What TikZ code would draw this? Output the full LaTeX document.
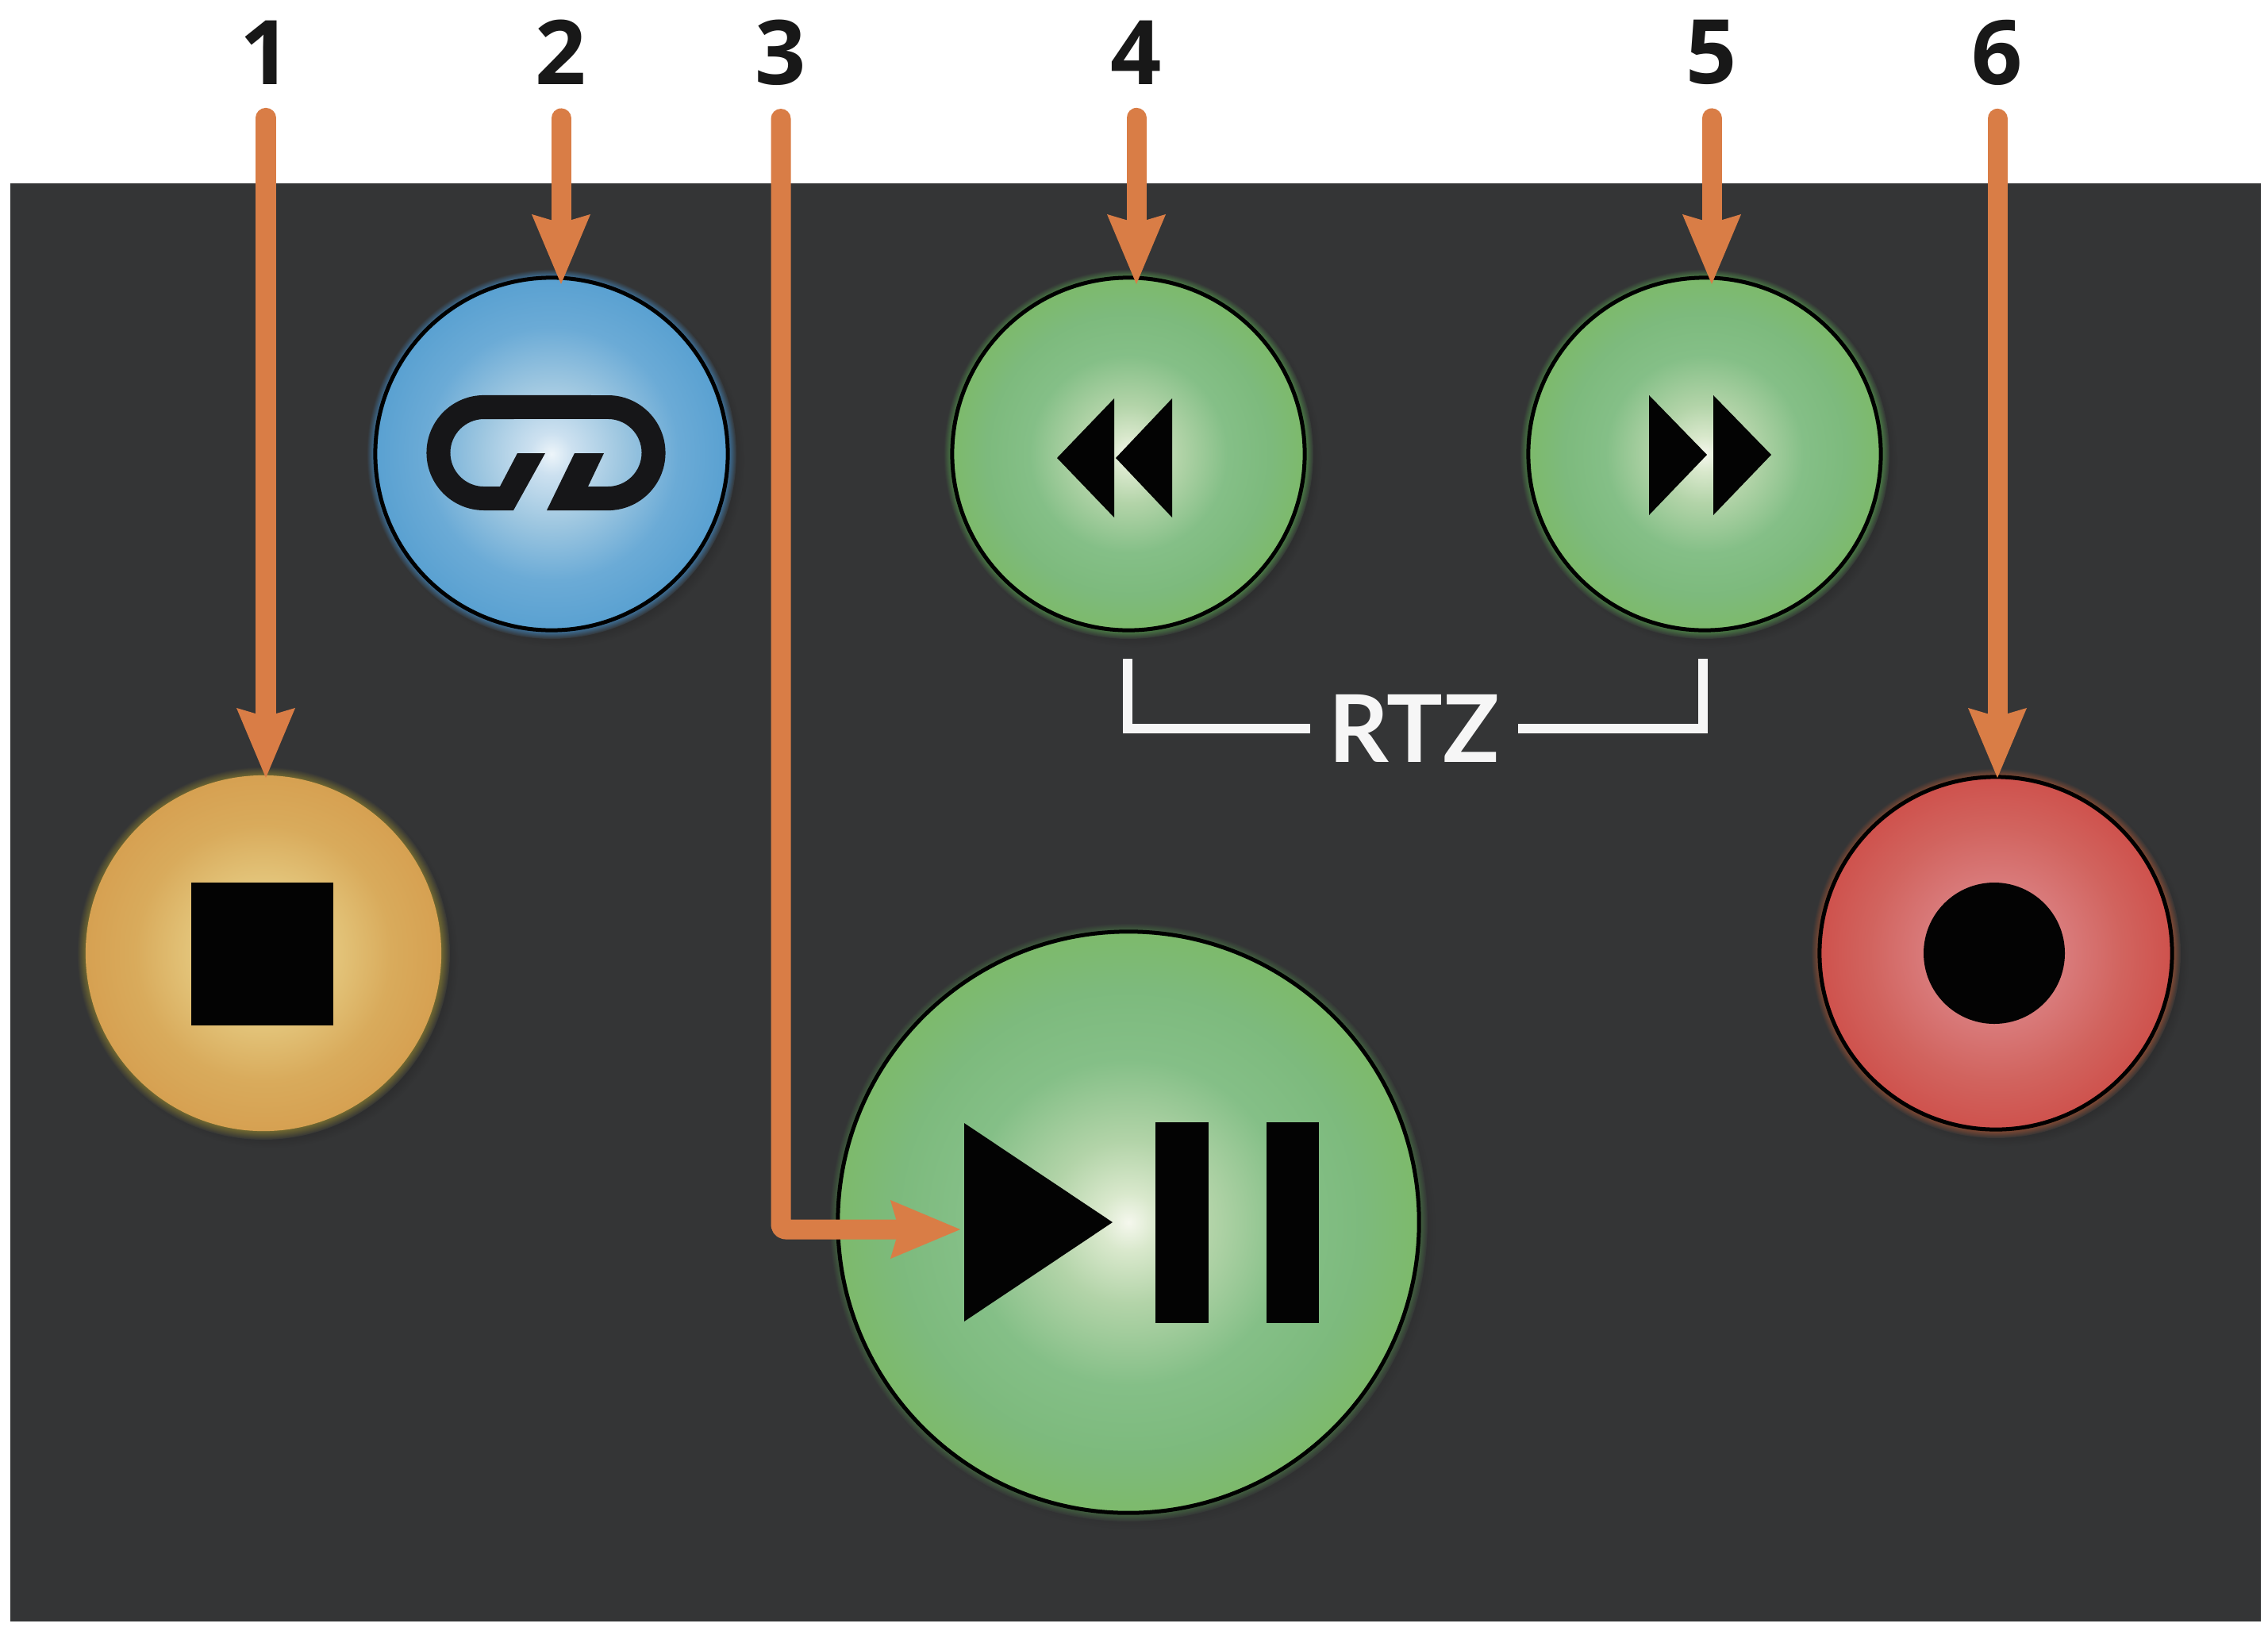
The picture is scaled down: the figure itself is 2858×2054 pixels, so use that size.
\documentclass[tikz,border=0pt]{standalone}
\usepackage{fontspec}
\setmainfont{Open Sans}
\newfontfamily\rtzfont{Lato}
\usetikzlibrary{arrows.meta}
\definecolor{panelgrey}{RGB}{52,53,54}
\definecolor{pointerorange}{RGB}{217,125,70}
\definecolor{digitblack}{RGB}{24,24,24}
\definecolor{labelwhite}{RGB}{246,246,246}
\definecolor{iconblack}{RGB}{3,3,3}
\definecolor{linkblack}{RGB}{22,22,24}
\definecolor{glowA}{RGB}{62,122,170}
\definecolor{glowB}{RGB}{76,134,70}
\definecolor{glowC}{RGB}{112,104,48}
\definecolor{glowD}{RGB}{142,76,50}
\definecolor{shadowgrey}{RGB}{38,38,39}
% button faces
\pgfdeclareradialshading{faceblue}{\pgfpoint{0bp}{0bp}}{
	rgb(0bp)=(.93,.96,.98); rgb(3bp)=(.80,.88,.94); rgb(10bp)=(.62,.78,.88);
	rgb(18bp)=(.42,.67,.84); rgb(25bp)=(.35,.63,.82); rgb(50bp)=(.35,.63,.82)}
\pgfdeclareradialshading{facegreen}{\pgfpoint{0bp}{0bp}}{
	rgb(0bp)=(.96,.97,.93); rgb(2.5bp)=(.85,.91,.80); rgb(7bp)=(.70,.83,.66);
	rgb(14bp)=(.52,.75,.53); rgb(20bp)=(.49,.73,.49); rgb(25bp)=(.49,.73,.42); rgb(50bp)=(.49,.73,.42)}
\pgfdeclareradialshading{faceamber}{\pgfpoint{0bp}{0bp}}{
	rgb(0bp)=(.92,.82,.54); rgb(10bp)=(.89,.77,.48); rgb(18bp)=(.85,.67,.36);
	rgb(25bp)=(.84,.63,.32); rgb(50bp)=(.84,.63,.32)}
\pgfdeclareradialshading{facered}{\pgfpoint{0bp}{0bp}}{
	rgb(0bp)=(.86,.52,.52); rgb(10bp)=(.85,.48,.48); rgb(18bp)=(.82,.39,.37);
	rgb(25bp)=(.81,.32,.30); rgb(50bp)=(.81,.32,.30)}
% halos fade out into the panel
\newcommand{\declarehalo}[2]{\pgfdeclareradialshading{#1}{\pgfpoint{0bp}{0bp}}{
	color(0bp)=(#2); color(23.8bp)=(#2); color(25bp)=(panelgrey); color(50bp)=(panelgrey)}}
\declarehalo{haloblue}{glowA}
\declarehalo{halogreen}{glowB}
\declarehalo{haloamber}{glowC}
\declarehalo{halored}{glowD}
\pgfdeclareradialshading{dropshade}{\pgfpoint{0bp}{0bp}}{
	color(0bp)=(shadowgrey); color(22bp)=(shadowgrey); color(25bp)=(panelgrey); color(50bp)=(panelgrey)}
\tikzset{
	btn/.style={circle, draw=black, line width=0.05cm, minimum size=4.44cm, inner sep=0},
	pointer/.style={line width=0.25cm, draw=pointerorange, line cap=round, line join=round,
		-{Stealth[length=0.88cm, width=0.74cm, inset=0.11cm, line width=0pt]}},
	numlabel/.style={inner sep=0, text=digitblack, font=\fontsize{32}{33}\selectfont\bfseries},
	rtzlabel/.style={inner sep=0, minimum width=2.61cm, text=labelwhite, font=\rtzfont\fontsize{33.5}{34}\selectfont\bfseries},
	bracket/.style={line width=0.12cm, draw=labelwhite}
}

\begin{document}
\begin{tikzpicture}[x=0.01cm, y=-0.01cm]
	\useasboundingbox (0,0) rectangle (2858,2054);
	\fill[white] (0,0) rectangle (2858,2054);
	\fill[panelgrey] (13,231) rectangle (2849,2043);

	% shadow and halo under every button
	\foreach \x/\y/\r/\h in {332/1201/224/haloamber, 695/572/222/haloblue, 1422/572/222/halogreen,
		2148/572/222/halogreen, 2515/1201/222/halored, 1422/1540/366/halogreen}{
		\shade[shading=dropshade] (\x+8,\y+8) circle ({\r+14});
		\shade[shading=\h] (\x,\y) circle ({\r+11});
	}

	% Buttons
	\node[btn, draw=none, minimum size=4.48cm, shading=faceamber] (stopbtn) at (332,1201) {};
	\node[btn, shading=faceblue] (linkbtn) at (695,572) {};
	\node[btn, shading=facegreen] (rewbtn) at (1422,572) {};
	\node[btn, shading=facegreen] (ffwbtn) at (2148,572) {};
	\node[btn, shading=facered] (recbtn) at (2515,1201) {};
	\node[btn, minimum size=7.32cm, shading=facegreen] (playbtn) at (1422,1540) {};

	% Icons
	\fill[iconblack] (241,1112) rectangle (420,1292);
	\fill[iconblack] (2513,1201) circle (89);
	\fill[iconblack] (1332,577) -- (1404,502) -- (1404,652) -- cycle;
	\fill[iconblack] (1406,577) -- (1477,502) -- (1477,652) -- cycle;
	\fill[iconblack] (2078,498) -- (2151,573) -- (2078,649) -- cycle;
	\fill[iconblack] (2159,498) -- (2232,573) -- (2159,649) -- cycle;
	\fill[iconblack] (1215,1415) -- (1402,1540) -- (1215,1665) -- cycle;
	\fill[iconblack] (1456,1414) rectangle (1523,1667);
	\fill[iconblack] (1596,1414) rectangle (1662,1667);
	% link ring, cut by two slashes
	\fill[linkblack] (647,643) -- (610,643) arc[start angle=270, end angle=90, radius=0.725cm]
		-- (766,498) arc[start angle=90, end angle=-90, radius=0.725cm]
		-- (689,643) -- (724,571) -- (761,571) -- (741,613) -- (766,613)
		arc[start angle=-90, end angle=90, radius=0.425cm]
		-- (610,528) arc[start angle=90, end angle=270, radius=0.425cm]
		-- (630,613) -- (652,571) -- (687,571) -- cycle;

	% RTZ bracket
	\node[rtzlabel] (rtz) at (1782,918) {RTZ};
	\coordinate (brL) at (1421,830);
	\coordinate (brR) at (2146,830);
	\draw[bracket] (rtz.west) -| (brL);
	\draw[bracket] (rtz.east) -| (brR);

	% Numbers with their arrows
	\foreach \n/\x/\y in {1/335/980, 2/707/358, 4/1432/358, 5/2157/358, 6/2517/980}{
		\node[numlabel] (num\n) at (\x,66) {\n};
		\coordinate (tip\n) at (\x,\y);
		\draw[pointer, shorten <=0.415cm] (num\n.south) -- (tip\n);
	}
	\node[numlabel] (num3) at (984,66) {3};
	\coordinate (tip3) at (1210,1549);
	\draw[pointer, shorten <=0.415cm, rounded corners=0.06cm] (num3.south) |- (tip3);
\end{tikzpicture}
\end{document}
